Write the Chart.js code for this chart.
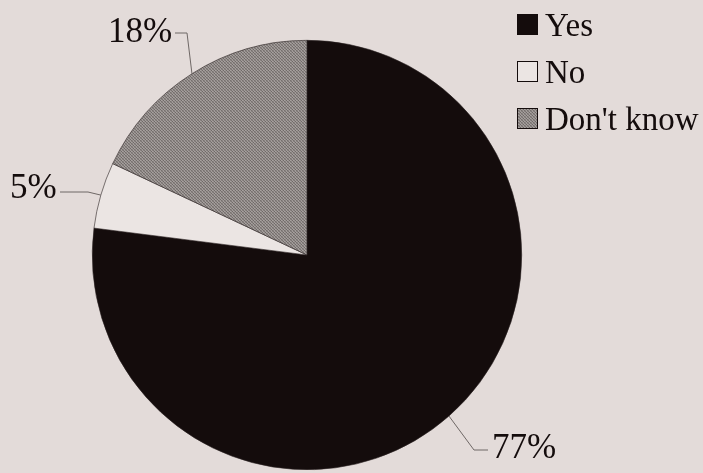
<!DOCTYPE html>
<html><head><meta charset="utf-8">
<script src="https://cdn.jsdelivr.net/npm/chart.js@4"></script>
<style>html,body{margin:0;padding:0;background:#e3dbd9;}canvas{display:block;}</style>
</head><body>
<canvas id="c" width="703" height="473"></canvas>
<script>
const categories = ["Yes", "No", "Don't know"];
const values = [77, 5, 18];
const valueLabels = ["77%", "5%", "18%"];

function makePattern(){
  const p = document.createElement('canvas'); p.width = 3; p.height = 3;
  const g = p.getContext('2d');
  const shades = [
    ['#7a7472','#a29c9a','#8c8684'],
    ['#9a9492','#6e6866','#a8a2a0'],
    ['#8e8886','#a09a98','#76706e']
  ];
  for (let r = 0; r < 3; r++) for (let c = 0; c < 3; c++) { g.fillStyle = shades[r][c]; g.fillRect(c, r, 1, 1); }
  return document.getElementById('c').getContext('2d').createPattern(p, 'repeat');
}
const grayPat = makePattern();
const fills = ['#140c0c', '#ebe5e3', grayPat];

// label placement (style only)
const labelPos = [
  {tx: 492, ty: 458, ex: 474, ey: 450, lx: 488},
  {tx: 10, ty: 198, ex: 88, ey: 192, lx: 60},
  {tx: 108, ty: 42, ex: 187, ey: 33, lx: 175}
];

const bgPlugin = {
  id: 'bg',
  beforeDraw(chart){
    const ctx = chart.ctx; ctx.save(); ctx.fillStyle = '#e3dbd9';
    ctx.fillRect(0,0,chart.width,chart.height); ctx.restore();
  }
};

const labelPlugin = {
  id: 'lbls',
  afterDatasetsDraw(chart){
    const ctx = chart.ctx;
    const meta = chart.getDatasetMeta(0);
    ctx.save();
    meta.data.forEach((arc, i) => {
      const {x, y, startAngle, endAngle, outerRadius} = arc.getProps(['x','y','startAngle','endAngle','outerRadius'], true);
      const mid = (startAngle + endAngle) / 2;
      const px = x + Math.cos(mid) * outerRadius;
      const py = y + Math.sin(mid) * outerRadius;
      const L = labelPos[i];
      ctx.strokeStyle = '#6f6866'; ctx.lineWidth = 1;
      ctx.beginPath(); ctx.moveTo(px, py); ctx.lineTo(L.ex, L.ey); ctx.lineTo(L.lx, L.ey); ctx.stroke();
      ctx.fillStyle = '#140c0c';
      ctx.font = '35px "Liberation Serif"';
      ctx.textAlign = 'left'; ctx.textBaseline = 'alphabetic';
      ctx.fillText(valueLabels[i], L.tx, L.ty);
    });
    // legend
    const lx = 517, rows = [36, 83, 130];
    ctx.font = '33px "Liberation Serif"';
    ctx.textAlign = 'left'; ctx.textBaseline = 'alphabetic';
    categories.forEach((c, i) => {
      const by = rows[i] - 22;
      ctx.fillStyle = fills[i];
      ctx.fillRect(lx, by, 21, 21);
      ctx.strokeStyle = '#140c0c'; ctx.lineWidth = 1;
      ctx.strokeRect(lx + 0.5, by + 0.5, 20, 20);
      ctx.fillStyle = '#140c0c';
      ctx.fillText(c, lx + 28, rows[i]);
    });
    ctx.restore();
  }
};

new Chart(document.getElementById('c'), {
  type: 'pie',
  data: {
    labels: categories,
    datasets: [{
      data: values,
      backgroundColor: fills,
      borderColor: '#2a2222',
      borderWidth: 0.6
    }]
  },
  options: {
    responsive: false,
    animation: false,
    layout: {padding: {top: 40, bottom: 3, left: 92, right: 181}},
    plugins: {legend: {display: false}, tooltip: {enabled: false}}
  },
  plugins: [bgPlugin, labelPlugin]
});
</script>
</body></html>
